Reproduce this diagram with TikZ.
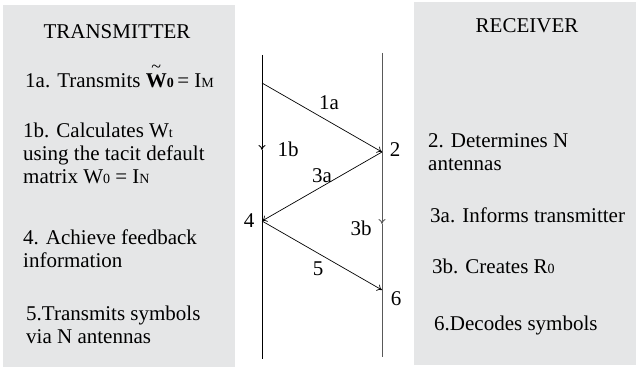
\documentclass[tikz,border=0pt]{standalone}
\usepackage{fontspec}
\setmainfont{Liberation Serif}
\usetikzlibrary{arrows.meta}

\definecolor{panelgray}{HTML}{E5E6E7}
\newcommand{\lowsub}[1]{{\fontsize{14}{14}\selectfont #1}}
\newcommand{\tildeW}{\ooalign{\textbf{W}\cr\hidewidth\raisebox{14pt}{\fontsize{18}{18}\selectfont\textasciitilde}\hidewidth\cr}}

\begin{document}
\begin{tikzpicture}[x=1pt, y=-1pt, font=\fontsize{21}{23}\selectfont]

\tikzset{panel/.style = {fill=panelgray, draw=none}}
\tikzset{life/.style = {line width=0.9pt}}
\tikzset{msg/.style = {line width=0.7pt, -{To[length=5pt,width=7pt]}}}
\tikzset{txt/.style = {anchor=base west, inner sep=0pt, align=left}}
\tikzset{lbl/.style = {inner sep=0pt}}

\useasboundingbox (0,0) rectangle (637,369);

%panels
\fill[panel] (3,5) rectangle (235,367);
\fill[panel] (414,2) rectangle (636,365);

%lifelines
\coordinate (tTop) at (262,55);
\coordinate (tB) at (262,150);
\coordinate (tBot) at (262,359);
\coordinate (rTop) at (382,53);
\coordinate (rB) at (382,224);
\coordinate (rBot) at (382,357);
\draw[life, -{To[length=5pt,width=7pt]}] (tTop) -- (tB);
\draw[life] (tB) -- (tBot);
\draw[life, black!65, -{To[length=5pt,width=7pt]}] (rTop) -- (rB);
\draw[life, black!65] (rB) -- (rBot);

%message points
\coordinate (p1) at (262,83);
\coordinate (p2) at (382,152);
\coordinate (p4) at (262,221);
\coordinate (p6) at (382,290);
\draw[msg] (p1) -- (p2);
\draw[msg] (p2) -- (p4);
\draw[msg] (p4) -- (p6);

%step labels
\node[lbl] (l1a) at (329,103) {1a};
\node[lbl] (l1b) at (288,149) {1b};
\node[lbl] (l3a) at (322,176) {3a};
\node[lbl] (l3b) at (361,228) {3b};
\node[lbl] (l5) at (318,269) {5};
\node[lbl] (n2) at (395,150) {2};
\node[lbl] (n4) at (249,221) {4};
\node[lbl] (n6) at (396,299) {6};

%transmitter side (base = last line)
\node[anchor=base] (tx) at (117,39) {TRANSMITTER};
\node[txt] (t1a) at (25,87) {1a. Transmits \tildeW\textbf{\lowsub{0}}\,= I\lowsub{M}};
\node[txt] (t1b) at (23,183) {1b. Calculates W\lowsub{t}\\using the tacit default\\matrix W\lowsub{0} = I\lowsub{N}};
\node[txt] (t4) at (23,267) {4. Achieve feedback\\information};
\node[txt] (t5) at (26,343) {5.Transmits symbols\\via N antennas};

%receiver side
\node[anchor=base] (rx) at (527,33) {RECEIVER};
\node[txt] (r2) at (428,170) {2. Determines N\\antennas};
\node[txt] (r3a) at (430,222) {3a. Informs transmitter};
\node[txt] (r3b) at (432,273) {3b. Creates R\lowsub{0}};
\node[txt] (r6) at (434,330) {6.Decodes symbols};

\end{tikzpicture}
\end{document}
